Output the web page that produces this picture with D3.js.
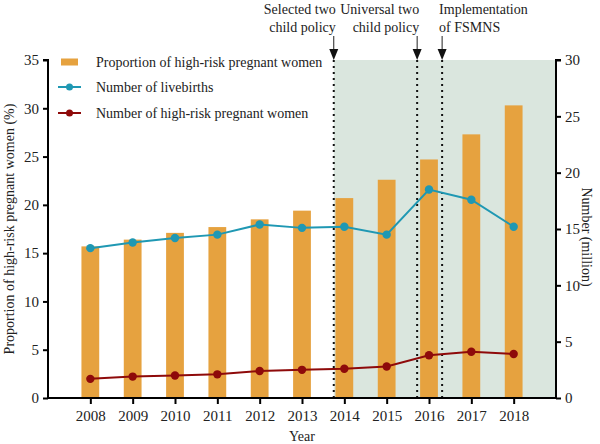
<!DOCTYPE html>
<html><head><meta charset="utf-8">
<script src="https://cdn.jsdelivr.net/npm/d3@7"></script>
<style>body{margin:0;background:#fff}svg{display:block}text{font-family:"Liberation Serif","Times New Roman",Times,serif;fill:#222}</style>
</head><body><svg id="c" width="600" height="444"></svg>
<script>
const years = [2008,2009,2010,2011,2012,2013,2014,2015,2016,2017,2018];
const proportion = [15.7,16.4,17.1,17.7,18.5,19.4,20.7,22.6,24.7,27.3,30.3];
const livebirths = [13.3,13.8,14.2,14.5,15.4,15.1,15.2,14.5,18.5,17.6,15.2];
const highRisk = [1.7,1.9,2.0,2.1,2.4,2.5,2.6,2.8,3.8,4.1,3.9];
const leftTicks = [0,5,10,15,20,25,30,35];
const rightTicks = [0,5,10,15,20,25,30];
const policyYears = [2013.75, 2015.72, 2016.31];
const policyLabels = [["Selected two","child policy"],["Universal two","child policy"],["Implementation","of FSMNS"]];
const policyAnchor = ["end","end","start"];
const legendLabels = ["Proportion of high-risk pregnant women","Number of livebirths","Number of high-risk pregnant women"];

const colBar = "#E6A23F", colBlue = "#1F98B3", colRed = "#8E0A0A", colShade = "#DAE6DE";
const FS = 14;
const L = 48, R = 556, T = 60, B = 398;
const svg = d3.select("#c");
const x = d3.scalePoint().domain(years).range([L, R]).padding(1);
const step = x.step();
const xl = d3.scaleLinear().domain([years[0], years[years.length-1]]).range([x(years[0]), x(years[years.length-1])]);
const yL = d3.scaleLinear().domain([0,35]).range([B, T]);
const yR = d3.scaleLinear().domain([0,30]).range([B, T]);

// shaded region
svg.append("rect").attr("x", xl(policyYears[0])).attr("y", T)
  .attr("width", R - xl(policyYears[0])).attr("height", B - T).attr("fill", colShade);

// bars
const bw = step * 0.42;
svg.selectAll("rect.bar").data(years).join("rect").attr("class","bar")
  .attr("x", d => x(d) - bw/2).attr("y", (d,i) => yL(proportion[i]))
  .attr("width", bw).attr("height", (d,i) => B - yL(proportion[i])).attr("fill", colBar);

// dotted lines
policyYears.forEach((p,i) => {
  const px = xl(p);
  svg.append("line").attr("x1",px).attr("x2",px).attr("y1",T).attr("y2",B)
    .attr("stroke","#111").attr("stroke-width",2).attr("stroke-dasharray","2,4");
  svg.append("line").attr("x1",px).attr("x2",px).attr("y1",36).attr("y2",50).attr("stroke","#222").attr("stroke-width",1);
  svg.append("path").attr("d",`M${px-4.5},49 L${px+4.5},49 L${px},60 Z`).attr("fill","#111");
  const tx = policyAnchor[i] === "end" ? px + 2 : px - 3;
  policyLabels[i].forEach((s,j) => {
    svg.append("text").attr("x", tx).attr("y", 14 + j*18).attr("text-anchor", policyAnchor[i])
      .attr("font-size", FS).text(s);
  });
});

// lines
function series(vals, col) {
  const line = d3.line().x((d,i) => x(years[i])).y(d => yR(d));
  svg.append("path").datum(vals).attr("d", line).attr("fill","none").attr("stroke",col).attr("stroke-width",2);
  svg.selectAll(null).data(vals).join("circle").attr("cx",(d,i)=>x(years[i])).attr("cy",d=>yR(d)).attr("r",4.2).attr("fill",col);
}
series(livebirths, colBlue);
series(highRisk, colRed);

// axes
const axL = d3.axisLeft(yL).tickValues(leftTicks).tickSize(5).tickPadding(4);
const axR = d3.axisRight(yR).tickValues(rightTicks).tickSize(5).tickPadding(4);
const axB = d3.axisBottom(x).tickSize(6).tickPadding(6);
function style(g){ g.select(".domain").attr("stroke","#000").attr("stroke-width",2);
  g.selectAll(".tick line").attr("stroke","#000").attr("stroke-width",2);
  g.selectAll(".tick text").attr("font-family","Liberation Serif, Times New Roman, serif").attr("font-size",15).attr("fill","#222"); }
svg.append("g").attr("transform",`translate(${L},0)`).call(axL).call(style).select(".domain").attr("d",`M-5,${T}H0V${B}`);
svg.append("g").attr("transform",`translate(${R},0)`).call(axR).call(style).select(".domain").attr("d",`M5,${T}H0V${B}`);
const gb = svg.append("g").attr("transform",`translate(0,${B})`).call(axB).call(style);
gb.select(".domain").attr("d",`M${L},0H${R}`);

// axis titles
svg.append("text").attr("transform",`translate(14,${(T+B)/2}) rotate(-90)`).attr("text-anchor","middle").attr("font-size",FS)
  .text("Proportion of high-risk pregnant women (%)");
svg.append("text").attr("transform",`translate(582,237) rotate(90)`).attr("text-anchor","middle").attr("font-size",FS)
  .text("Number (million)");
svg.append("text").attr("x", (L+R)/2).attr("y", 441).attr("text-anchor","middle").attr("font-size",FS).text("Year");

// legend
const ly = [62, 87, 113];
svg.append("rect").attr("x",61).attr("y",ly[0]-3.5).attr("width",17).attr("height",7).attr("fill",colBar);
[[colBlue,1],[colRed,2]].forEach(([c,i]) => {
  svg.append("line").attr("x1",58).attr("x2",81).attr("y1",ly[i]).attr("y2",ly[i]).attr("stroke",c).attr("stroke-width",2);
  svg.append("circle").attr("cx",69.5).attr("cy",ly[i]).attr("r",3.5).attr("fill",c);
});
legendLabels.forEach((s,i) => svg.append("text").attr("x",96).attr("y",ly[i]+5).attr("font-size",FS).text(s));
</script></body></html>
